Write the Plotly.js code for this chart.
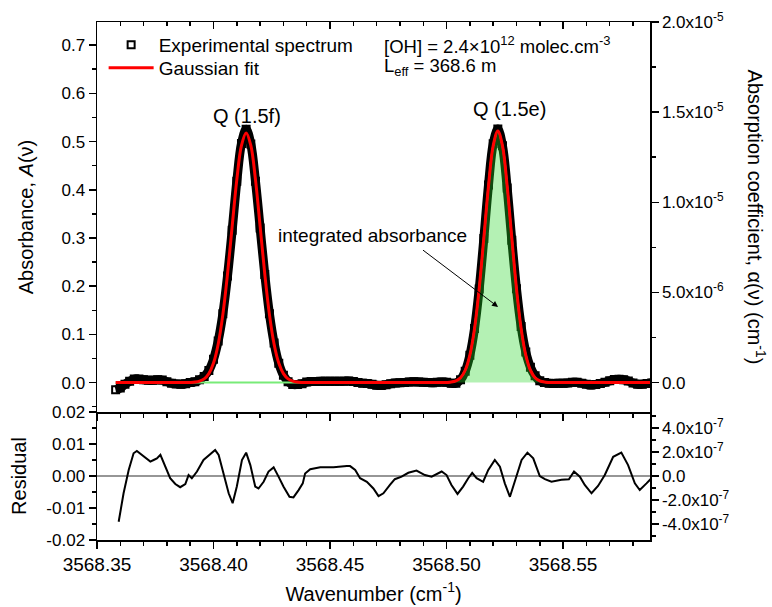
<!DOCTYPE html>
<html>
<head>
<meta charset="utf-8">
<script src="https://cdn.plot.ly/plotly-3.0.1.min.js"></script>
<style>html,body{margin:0;padding:0;background:#fff}#chart{width:772px;height:607px}</style>
</head>
<body>
<div id="chart"></div>
<script>
// Wavenumber grid (cm-1) for spectrum and fit
const wavenumber = [
3568.358,3568.360,3568.362,3568.364,3568.366,3568.368,3568.370,3568.372,3568.374,3568.376,
3568.378,3568.380,3568.382,3568.384,3568.386,3568.388,3568.390,3568.392,3568.394,3568.396,
3568.398,3568.400,3568.402,3568.404,3568.406,3568.408,3568.410,3568.412,3568.414,3568.416,
3568.418,3568.420,3568.422,3568.424,3568.426,3568.428,3568.430,3568.432,3568.434,3568.436,
3568.438,3568.440,3568.442,3568.444,3568.446,3568.448,3568.450,3568.452,3568.454,3568.456,
3568.458,3568.460,3568.462,3568.464,3568.466,3568.468,3568.470,3568.472,3568.474,3568.476,
3568.478,3568.480,3568.482,3568.484,3568.486,3568.488,3568.490,3568.492,3568.494,3568.496,
3568.498,3568.500,3568.502,3568.504,3568.506,3568.508,3568.510,3568.512,3568.514,3568.516,
3568.518,3568.520,3568.522,3568.524,3568.526,3568.528,3568.530,3568.532,3568.534,3568.536,
3568.538,3568.540,3568.542,3568.544,3568.546,3568.548,3568.550,3568.552,3568.554,3568.556,
3568.558,3568.560,3568.562,3568.564,3568.566,3568.568,3568.570,3568.572,3568.574,3568.576,
3568.578,3568.580,3568.582,3568.584,3568.586,3568.588];

// Experimental absorbance A(v)
const experimental = [
-0.015,-0.0113,-0.0034,0.0029,0.0073,0.0072,0.0060,0.0050,0.0049,0.0057,
0.0052,0.0017,-0.0012,-0.0027,-0.0034,-0.0023,0.0001,0.0015,0.0057,0.0129,
0.0251,0.0482,0.0864,0.1426,0.221,0.3159,0.4177,0.4962,0.5253,0.4948,
0.4178,0.3208,0.224,0.1426,0.082,0.0401,0.0153,0.0019,-0.0038,-0.0039,
-0.0024,0.0012,0.0022,0.0024,0.0027,0.0027,0.0027,0.0027,0.0028,0.0030,
0.0031,0.0023,0.0004,-0.0011,-0.0018,-0.0035,-0.0054,-0.0058,-0.0044,-0.0025,
-0.0010,-0.0004,0.0003,0.0011,0.0015,0.0014,0.0006,0.0001,-0.0001,0.0007,
0.0014,0.0006,-0.0015,-0.0012,0.0058,0.0234,0.0569,0.1121,0.1939,0.2987,
0.410,0.4952,0.5258,0.4912,0.4038,0.2953,0.1948,0.1165,0.0636,0.032,
0.0141,0.0036,0.0002,-0.0012,-0.0017,-0.0014,-0.0012,-0.0010,0.0006,0.0006,
-0.0012,-0.0034,-0.0052,-0.0039,-0.0019,0.0005,0.0036,0.0062,0.0069,0.0060,
0.0034,-0.0007,-0.0035,-0.0036,-0.0021,-0.0007];

// Gaussian fit (both lines)
const gaussianFit = [
0,0,0,0,0,0,0,0,0,0,
0,0,0,0,0,0,0.0003,0.001,0.0029,0.0077,
0.0186,0.0405,0.0796,0.141,0.225,0.324,0.421,0.492,0.518,0.492,
0.421,0.324,0.225,0.141,0.0796,0.0405,0.0186,0.0077,0.0029,0.001,
0.0003,0,0,0,0,0,0,0,0,0,
0,0,0,0,0,0,0,0,0,0,
0,0,0,0,0,0,0,0,0,0,
0,0.0003,0.0011,0.0036,0.0102,0.0256,0.0569,0.112,0.195,0.300,
0.408,0.491,0.522,0.491,0.408,0.300,0.195,0.112,0.0569,0.0256,
0.0102,0.0036,0.0011,0.0003,0,0,0,0,0,0,
0,0,0,0,0,0,0,0,0,0,
0,0,0,0,0,0];

// Q(1.5e) component: integrated absorbance area
const integratedArea = [
0,0,0,0,0,0,0,0,0,0,
0,0,0,0,0,0,0,0,0,0,
0,0,0,0,0,0,0,0,0,0,
0,0,0,0,0,0,0,0,0,0,
0,0,0,0,0,0,0,0,0,0,
0,0,0,0,0,0,0,0,0,0,
0,0,0,0,0,0,0,0,0,0,
0,0.0003,0.0011,0.0036,0.0102,0.0256,0.0569,0.112,0.195,0.300,
0.408,0.491,0.522,0.491,0.408,0.300,0.195,0.112,0.0569,0.0256,
0.0102,0.0036,0.0011,0.0003,0,0,0,0,0,0,
0,0,0,0,0,0,0,0,0,0,
0,0,0,0,0,0];

// Residual
const residualWavenumber = [
3568.3593,3568.3614,3568.3636,3568.3657,3568.3671,3568.3700,3568.3729,3568.3743,3568.3757,3568.3772,
3568.3793,3568.3814,3568.3836,3568.3857,3568.3879,3568.3893,3568.3907,3568.3929,3568.3957,3568.3986,
3568.4007,3568.4022,3568.4043,3568.4065,3568.4082,3568.4100,3568.4122,3568.4140,3568.4158,3568.4179,
3568.4193,3568.4215,3568.4236,3568.4258,3568.4279,3568.4300,3568.4326,3568.4343,3568.4365,3568.4383,
3568.4393,3568.4415,3568.4458,3568.4515,3568.4572,3568.4586,3568.4608,3568.4629,3568.4658,3568.4686,
3568.4708,3568.4729,3568.4757,3568.4778,3568.4807,3568.4836,3568.4871,3568.4907,3568.4936,3568.4979,
3568.5000,3568.5021,3568.5047,3568.5071,3568.5093,3568.5110,3568.5129,3568.5157,3568.5179,3568.5207,
3568.5229,3568.5250,3568.5272,3568.5293,3568.5322,3568.5347,3568.5372,3568.5400,3568.5422,3568.5450,
3568.5493,3568.5525,3568.5547,3568.5572,3568.5593,3568.5622,3568.5650,3568.5679,3568.5715,3568.5750,
3568.5779,3568.5808,3568.5829,3568.5858,3568.5879];
const residual = [
-0.0143,-0.0054,0.0019,0.0071,0.0078,0.0060,0.0045,0.0050,0.0055,0.0066,
0.0029,-0.0007,-0.0025,-0.0035,-0.0025,0.0003,-0.0007,0.0014,0.0050,0.0069,
0.0081,0.0066,0.0008,-0.0054,-0.0085,-0.0033,0.0050,0.0073,0.0034,-0.0033,
-0.0039,-0.0018,0.0014,0.0027,-0.0002,-0.0033,-0.0065,-0.0067,-0.0044,-0.0023,
0.0008,0.0021,0.0027,0.0027,0.0031,0.0031,0.0019,-0.0007,-0.0018,-0.0039,
-0.0063,-0.0054,-0.0028,-0.0010,-0.0002,0.0010,0.0017,0.0003,-0.0002,0.0014,
0.0003,-0.0028,-0.0056,-0.0033,-0.0007,0.0010,-0.0007,-0.0018,0.0019,0.0050,
0.0029,-0.0023,-0.0065,-0.0018,0.0050,0.0073,0.0055,0.0000,-0.0010,-0.0018,
-0.0012,-0.0010,0.0014,-0.0002,-0.0028,-0.0054,-0.0031,0.0003,0.0060,0.0073,
0.0034,-0.0023,-0.0044,-0.0023,-0.0007];

// Tick labels
const rightTopTickVals = [0, 5e-6, 1e-5, 1.5e-5, 2e-5];
const rightTopTickText = ['0.0','5.0x10<sup>-6</sup>','1.0x10<sup>-5</sup>','1.5x10<sup>-5</sup>','2.0x10<sup>-5</sup>'];
const residLeftTickVals = [-0.02,-0.01,0,0.01,0.02];
const residLeftTickText = ['-0.02','-0.01','0.00','0.01','0.02'];
const residRightTickVals = [-4e-7,-2e-7,0,2e-7,4e-7];
const residRightTickText = ['-4.0x10<sup>-7</sup>','-2.0x10<sup>-7</sup>','0.0','2.0x10<sup>-7</sup>','4.0x10<sup>-7</sup>'];

const FONT = 'Arial, "Liberation Sans", sans-serif';
const xRange = [3568.35, 3568.5873];

const traces = [
  {x: wavenumber, y: experimental, xaxis:'x2', yaxis:'y', mode:'lines', line:{color:'black', width:9, shape:'spline'}, showlegend:false, hoverinfo:'skip'},
  {x: wavenumber, y: experimental, xaxis:'x2', yaxis:'y', mode:'markers', name:'Experimental spectrum', legend:'legend',
   marker:{symbol:'square-open', size:7, color:'black', line:{color:'black', width:2}}},
  {x: wavenumber, y: integratedArea, xaxis:'x2', yaxis:'y', mode:'lines', fill:'tozeroy',
   fillcolor:'rgba(40,215,40,0.35)', line:{color:'rgb(120,235,120)', width:2, shape:'spline'}, showlegend:false},
  {x: wavenumber, y: gaussianFit, xaxis:'x2', yaxis:'y', mode:'lines', name:'Gaussian fit', legend:'legend2',
   line:{color:'#ff0000', width:3, shape:'spline'}},
  {x: residualWavenumber, y: residual, xaxis:'x', yaxis:'y2', mode:'lines', line:{color:'black', width:2}, showlegend:false},
  // empty carriers so the secondary axes are drawn
  {x: [], y: [], xaxis:'x3', yaxis:'y', mode:'lines', showlegend:false},
  {x: [], y: [], xaxis:'x2', yaxis:'y3', mode:'lines', showlegend:false},
  {x: [], y: [], xaxis:'x', yaxis:'y4', mode:'lines', showlegend:false}
];

const axisCommon = {showline:true, linecolor:'black', linewidth:1.5, showgrid:false, zeroline:false,
  tickcolor:'black', tickwidth:1.5, ticklen:7, tickfont:{family:FONT, size:17, color:'black'}};
const dom = 0.2471;
const legendFont = {family:FONT, size:19, color:'black'};

const layout = {
  width:772, height:607,
  margin:{l:97, r:121.5, t:22, b:67},
  paper_bgcolor:'white', plot_bgcolor:'white',
  font:{family:FONT, color:'black'},
  showlegend:true,
  legend:{x:0.012, y:0.9556, xanchor:'left', yanchor:'middle', bgcolor:'rgba(0,0,0,0)', borderwidth:0,
    font:legendFont, itemwidth:45},
  legend2:{x:0.012, y:0.9112, xanchor:'left', yanchor:'middle', bgcolor:'rgba(0,0,0,0)', borderwidth:0,
    font:legendFont, itemwidth:45},
  xaxis: Object.assign({}, axisCommon, {domain:[0,1], anchor:'y2', range:xRange, ticks:'outside',
    tick0:3568.35, dtick:0.05, tickformat:'.2f', tickfont:{family:FONT, size:19, color:'black'},
    minor:{dtick:0.01, tick0:3568.35, ticklen:4, tickwidth:1.5, tickcolor:'black', ticks:'outside'},
    title:{text:'Wavenumber (cm<sup>-1</sup>)', font:{family:FONT, size:20, color:'black'}, standoff:12}}),
  xaxis2: Object.assign({}, axisCommon, {domain:[0,1], anchor:'y', matches:'x', range:xRange, ticks:'outside',
    tick0:3568.35, dtick:0.05, showticklabels:false,
    minor:{dtick:0.01, tick0:3568.35, ticklen:4, tickwidth:1.5, tickcolor:'black', ticks:'outside'}}),
  xaxis3: Object.assign({}, axisCommon, {overlaying:'x2', anchor:'y', side:'top', range:xRange, ticks:'inside',
    tick0:3568.35, dtick:0.05, showticklabels:false,
    minor:{dtick:0.01, tick0:3568.35, ticklen:4, tickwidth:1.5, tickcolor:'black', ticks:'inside'}}),
  yaxis: Object.assign({}, axisCommon, {domain:[dom,1], anchor:'x2', range:[-0.061, 0.748], ticks:'outside',
    tick0:0, dtick:0.1, tickformat:'.1f',
    minor:{dtick:0.05, tick0:0, ticklen:4, tickwidth:1.5, tickcolor:'black', ticks:'outside'},
    title:{text:'Absorbance, <i>A</i>(ν)', font:{family:FONT, size:20, color:'black'}, standoff:22}}),
  yaxis3: Object.assign({}, axisCommon, {overlaying:'y', anchor:'x2', side:'right', range:[-1.631e-6, 2.0e-5], ticks:'outside',
    tickmode:'array', tickvals:rightTopTickVals, ticktext:rightTopTickText,
    minor:{tickmode:'linear', dtick:2.5e-6, tick0:0, ticklen:4, tickwidth:1.5, tickcolor:'black', ticks:'outside'}}),
  yaxis2: Object.assign({}, axisCommon, {domain:[0,dom], anchor:'x', range:[-0.02, 0.02], ticks:'outside',
    tickmode:'array', tickvals:residLeftTickVals, ticktext:residLeftTickText,
    zeroline:true, zerolinecolor:'rgb(150,150,150)', zerolinewidth:2,
    minor:{tickmode:'linear', dtick:0.005, tick0:0, ticklen:4, tickwidth:1.5, tickcolor:'black', ticks:'outside'},
    title:{text:'Residual', font:{family:FONT, size:20, color:'black'}, standoff:14}}),
  yaxis4: Object.assign({}, axisCommon, {overlaying:'y2', anchor:'x', side:'right', range:[-5.35e-7, 5.35e-7], ticks:'outside',
    tickmode:'array', tickvals:residRightTickVals, ticktext:residRightTickText,
    minor:{tickmode:'linear', dtick:1e-7, tick0:0, ticklen:4, tickwidth:1.5, tickcolor:'black', ticks:'outside'}}),
  annotations:[
    {xref:'paper', yref:'paper', x:0.515, y:0.9556, xanchor:'left', yanchor:'middle', showarrow:false,
     text:'[OH] = 2.4×10<sup>12</sup> molec.cm<sup>-3</sup>', font:{family:FONT, size:18.5, color:'black'}},
    {xref:'paper', yref:'paper', x:0.515, y:0.913, xanchor:'left', yanchor:'middle', showarrow:false,
     text:'L<sub>eff</sub> = 368.6 m', font:{family:FONT, size:18.5, color:'black'}},
    {xref:'x2', yref:'y', x:3568.4145, y:0.553, showarrow:false, text:'Q (1.5f)', font:{family:FONT, size:20, color:'black'}},
    {xref:'x2', yref:'y', x:3568.5268, y:0.568, showarrow:false, text:'Q (1.5e)', font:{family:FONT, size:20, color:'black'}},
    {xref:'x2', yref:'y', x:3568.4683, y:0.306, showarrow:false, text:'integrated absorbance', font:{family:FONT, size:19, color:'black'}},
    {xref:'x2', yref:'y', axref:'x2', ayref:'y', x:3568.5221, y:0.157, ax:3568.4886, ay:0.2795,
     text:' ', showarrow:true, arrowhead:2, arrowsize:1.2, arrowwidth:1, arrowcolor:'black', standoff:0, startstandoff:0},
    {xref:'paper', yref:'paper', x:1.1924, y:0.6236, xanchor:'center', yanchor:'middle', showarrow:false, textangle:90,
     text:'Absorption coefficient, α(ν) (cm<sup>-1</sup>)', font:{family:FONT, size:20, color:'black'}}
  ]
};

Plotly.newPlot('chart', traces, layout, {displayModeBar:false, staticPlot:true});
</script>
</body>
</html>
